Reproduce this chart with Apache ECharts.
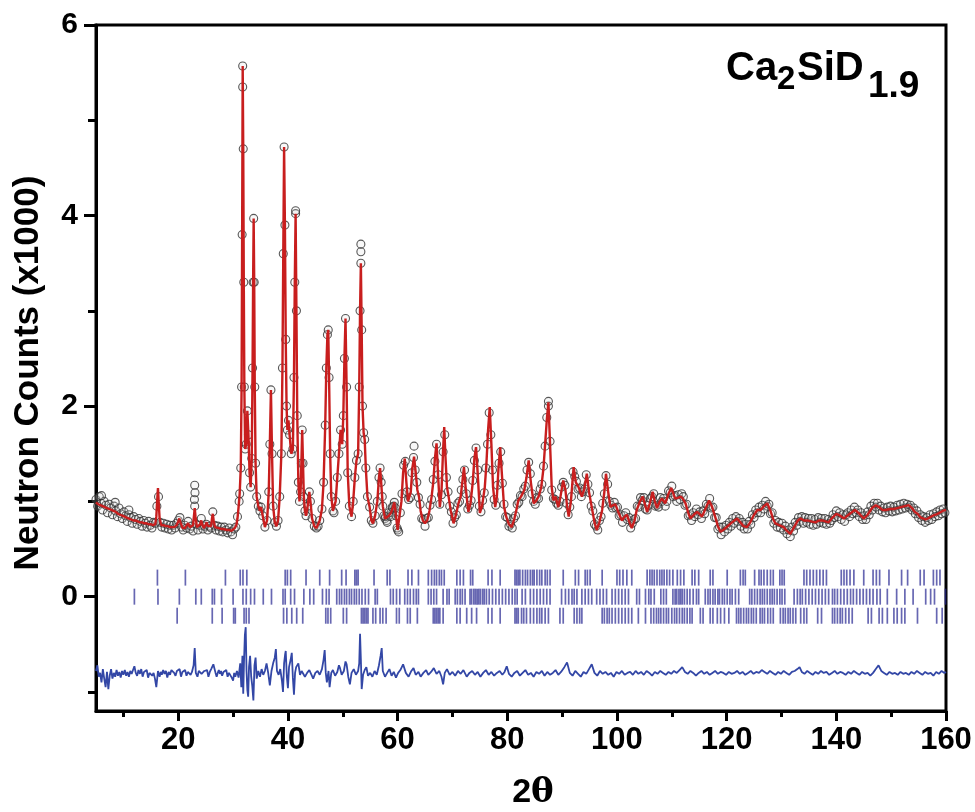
<!DOCTYPE html>
<html>
<head>
<meta charset="utf-8">
<script src="https://cdn.jsdelivr.net/npm/echarts@6/dist/echarts.min.js"></script>
<style>
html, body { margin: 0; padding: 0; background: #fff; }
#chart_id { width: 975px; height: 812px; }
</style>
</head>
<body>
<div id="chart_id"></div>
<script>
// 轴刻度
var xMajorTicks = [20, 40, 60, 80, 100, 120, 140, 160];
var xMinorTicks = [10, 30, 50, 70, 90, 110, 130, 150];
var yMajorTicks = [0, 2, 4, 6];
var yMinorTicks = [-1, 1, 3, 5];

// 计算谱 (2theta, counts/1000)
var profileLow = [[5.0,0.99],[5.4,0.97],[5.8,0.96],[6.2,0.95],[6.6,0.94],[7.0,0.93],[7.4,0.92],[7.8,0.91],[8.2,0.90],[8.6,0.89],[9.0,0.87],[9.4,0.86],[9.8,0.85],[10.2,0.84],[10.6,0.83],[11.0,0.82],[11.4,0.81],[11.8,0.80],[12.2,0.80],[12.6,0.79],[13.0,0.78],[13.4,0.78],[13.8,0.77],[14.2,0.77],[14.6,0.76],[15.0,0.76],[15.4,0.75],[15.8,0.76],[16.0,0.84],[16.15,1.00],[16.3,1.14],[16.45,0.97],[16.6,0.82],[16.9,0.75],[17.3,0.75],[17.7,0.74],[18.1,0.74],[18.5,0.73],[18.9,0.73],[19.3,0.73],[19.7,0.75],[20.0,0.79],[20.2,0.82],[20.4,0.78],[20.8,0.72],[21.2,0.72],[21.5,0.74],[21.8,0.77],[22.1,0.73],[22.4,0.71],[22.7,0.75],[22.9,0.87],[23.0,0.93],[23.15,0.84],[23.4,0.73],[23.7,0.72],[24.0,0.76],[24.2,0.80],[24.4,0.75],[24.7,0.72],[25.0,0.74],[25.2,0.78],[25.4,0.74],[25.7,0.72],[26.0,0.74],[26.15,0.82],[26.3,0.87],[26.45,0.80],[26.7,0.73],[27.0,0.72],[27.4,0.72],[27.8,0.71],[28.2,0.71],[28.5,0.71],[28.9,0.70],[29.3,0.70],[29.7,0.69],[30.0,0.70],[30.3,0.72],[30.6,0.75],[30.8,0.82],[31.0,0.94]];
var profilePeaks = [[31.2,1.08],[31.4,1.35],[31.55,2.2],[31.65,3.8],[31.75,5.57],[31.85,4.7],[31.95,3.3],[32.05,2.2],[32.2,1.55],[32.4,1.6],[32.6,1.95],[32.8,1.7],[33.0,1.3],[33.2,1.15],[33.4,1.45],[33.55,2.4],[33.65,3.3],[33.75,3.97],[33.85,3.3],[33.95,2.2],[34.1,1.4],[34.3,1.05],[34.6,0.95],[34.9,0.90],[35.1,0.94],[35.4,0.85],[35.8,0.73],[36.2,0.80],[36.5,1.10],[36.7,1.6],[36.9,2.17],[37.1,1.5],[37.3,0.95],[37.6,0.78],[37.9,0.74],[38.2,0.80],[38.5,1.05],[38.8,1.5],[39.0,2.4],[39.15,3.6],[39.3,4.72],[39.45,3.9],[39.6,2.7],[39.75,2.0],[39.9,1.75],[40.1,1.85],[40.3,1.7],[40.6,1.5],[40.9,1.55],[41.1,2.3],[41.25,3.3],[41.4,4.02],[41.55,3.0],[41.7,1.9],[41.9,1.2],[42.1,1.0],[42.3,1.1],[42.45,1.4],[42.6,1.75],[42.75,1.4],[42.9,1.05],[43.1,0.9],[43.3,0.85],[43.6,0.95],[43.9,1.1],[44.1,1.0],[44.4,0.82],[44.8,0.74],[45.2,0.72],[45.5,0.74],[45.8,0.80],[46.2,0.92],[46.5,1.2],[46.8,1.8],[47.0,2.4],[47.2,2.75],[47.35,2.8],[47.5,2.3],[47.7,1.5],[47.9,1.05],[48.2,0.9],[48.4,0.88],[48.7,1.0],[49.0,1.25],[49.3,1.5],[49.6,1.75],[49.9,1.6],[50.1,1.9],[50.3,2.5],[50.5,2.92],[50.7,2.2],[50.9,1.3],[51.2,0.95],[51.6,0.84],[51.9,1.0],[52.2,1.25],[52.5,1.43],[52.8,1.5],[53.0,2.2],[53.15,3.0],[53.3,3.5],[53.45,2.8],[53.6,2.0],[53.8,1.72],[54.0,1.65],[54.2,1.35],[54.5,1.05],[54.9,0.94],[55.2,0.80],[55.5,0.77],[55.9,0.85],[56.3,1.0],[56.6,1.25],[56.8,1.35],[57.0,1.2],[57.3,0.95],[57.7,0.82],[58.0,0.80],[58.4,0.85],[58.8,0.88],[59.1,0.93],[59.4,0.99],[59.7,0.85],[60.0,0.70]];
var profileMid = [[60.3,0.72],[60.7,1.0],[61.0,1.3],[61.3,1.45],[61.6,1.2],[61.9,1.0],[62.1,0.98],[62.4,1.1],[62.7,1.35],[63.0,1.47],[63.3,1.3],[63.6,1.12],[63.9,1.05],[64.2,0.9],[64.6,0.8],[65.0,0.77],[65.4,0.8],[65.8,0.9],[66.2,1.05],[66.5,1.2],[66.8,1.45],[67.1,1.61],[67.4,1.25],[67.7,0.94],[68.0,1.1],[68.3,1.55],[68.5,1.78],[68.7,1.5],[69.0,1.15],[69.3,1.05],[69.7,0.9],[70.2,0.77],[70.6,0.85],[71.1,0.98],[71.5,1.05],[71.8,1.2],[72.1,1.36],[72.4,1.15],[72.9,0.89],[73.3,0.98],[73.7,1.2],[74.0,1.45],[74.3,1.57],[74.6,1.3],[75.0,0.88],[75.4,0.95],[75.9,1.15],[76.2,1.4],[76.5,1.75],[76.8,1.99],[77.1,1.6],[77.4,1.15],[77.8,0.94],[78.1,1.05],[78.4,1.35],[78.7,1.57],[79.0,1.3],[79.4,0.95],[79.8,0.84],[80.3,0.76],[80.8,0.73],[81.3,0.82],[81.7,0.92],[82.0,1.01],[82.5,1.05],[83.1,1.12],[83.5,1.25],[83.9,1.43],[84.3,1.2],[84.8,0.98],[85.2,1.0],[85.7,1.05],[86.2,1.15],[86.6,1.35],[86.9,1.6],[87.2,1.85],[87.5,2.04],[87.8,1.6],[88.1,1.15],[88.4,1.01],[88.8,1.05],[89.3,0.94],[89.7,1.05],[90.2,1.22],[90.6,1.12],[90.9,0.95],[91.2,0.84],[91.6,1.0],[92.1,1.36],[92.5,1.2],[93.0,1.15],[93.6,1.05],[94.0,1.12],[94.5,1.29],[94.9,1.1],[95.4,0.94],[95.9,0.78],[96.3,0.70],[96.8,0.78],[97.3,0.91],[97.7,1.1],[98.0,1.29],[98.4,1.1],[98.8,0.94],[99.3,0.96],[99.7,0.97]];
var profileHigh = [[100.3,0.88],[100.9,0.80],[101.4,0.84],[101.8,0.86],[102.3,0.78],[102.7,0.72],[103.2,0.80],[103.6,0.91],[104.2,1.00],[104.7,1.05],[105.1,0.97],[105.5,0.89],[106.0,0.98],[106.5,1.10],[106.9,1.00],[107.3,0.93],[107.8,1.00],[108.2,1.03],[108.8,0.98],[109.4,1.08],[109.9,1.14],[110.3,1.08],[110.6,1.03],[111.2,1.04],[111.7,1.05],[112.1,1.02],[112.5,0.98],[113.0,0.88],[113.4,0.82],[114.0,0.86],[114.6,0.89],[115.0,0.87],[115.5,0.84],[116.2,0.93],[116.8,1.01],[117.3,0.95],[117.9,0.84],[118.4,0.74],[118.9,0.68],[119.6,0.71],[120.4,0.75],[121.2,0.79],[121.9,0.82],[122.5,0.78],[123.1,0.74],[123.7,0.73],[124.3,0.78],[124.9,0.85],[125.6,0.91],[126.2,0.91],[126.8,0.95],[127.4,0.98],[128.0,0.90],[128.5,0.81],[128.9,0.77],[129.6,0.75],[130.4,0.73],[131.0,0.69],[131.6,0.66],[132.3,0.73],[133.0,0.80],[133.5,0.82],[134.1,0.80],[134.7,0.80],[135.4,0.79],[136.2,0.78],[136.8,0.80],[137.4,0.80],[138.0,0.79],[138.6,0.78],[139.3,0.83],[140.0,0.87],[140.7,0.85],[141.4,0.82],[142.0,0.85],[142.7,0.88],[143.4,0.91],[144.2,0.87],[145.0,0.82],[145.7,0.86],[146.5,0.93],[147.2,0.96],[147.8,0.94],[148.4,0.91],[149.0,0.91],[149.8,0.92],[150.5,0.92],[151.1,0.93],[151.8,0.94],[152.5,0.95],[153.2,0.96],[153.8,0.93],[154.3,0.89],[154.8,0.87],[155.4,0.83],[156.3,0.81],[157.0,0.83],[157.6,0.85],[158.1,0.86],[158.8,0.88],[159.4,0.90],[160.0,0.91]];

// 观测点: 等步长 0.3 度的计数 (低角区 5.0 起, 中角区 57.2 起, 高角区 100.1 起)
var obsLowStart = 5.0, obsMidStart = 57.2, obsHighStart = 100.1, obsStep = 0.3;
var obsLow = [1.02,0.95,1.05,0.98,0.91,1.00,0.96,0.88,0.97,0.93,
	0.86,0.95,0.90,0.84,0.93,0.87,0.82,0.89,0.85,0.79,
	0.86,0.83,0.77,0.84,0.81,0.76,0.82,0.79,0.74,0.80,
	0.77,0.73,0.79,0.75,0.72,0.78,0.77,0.95,1.05,0.78,
	0.73,0.77,0.72,0.76,0.71,0.75,0.70,0.75,0.72,0.77,
	0.80,0.83,0.73,0.70,0.75,0.72,0.79,0.71,0.74,0.69,
	0.95,0.76,0.70,0.75,0.82,0.71,0.74,0.76,0.70,0.74,
	0.72,0.89,0.75,0.70,0.74,0.69,0.73,0.68,0.73,0.70,
	0.67,0.72,0.68,0.65,0.71,0.73,0.84,1.00];
var obsMid = [1.05,0.85,0.84,0.78,0.88,0.84,0.94,0.95,0.93,0.72,
	0.68,0.88,1.08,1.38,1.42,1.10,1.02,1.04,1.30,1.46,
	1.33,1.20,1.04,0.97,0.82,0.81,0.74,0.82,0.83,0.96,
	1.02,1.23,1.42,1.60,1.28,0.97,1.07,1.52,1.70,1.25,
	1.10,0.95,0.89,0.77,0.83,0.86,0.98,1.00,1.12,1.23,
	1.33,1.08,0.92,0.96,1.01,1.22,1.43,1.56,1.33,0.95,
	0.89,1.01,1.09,1.35,1.60,1.93,1.70,1.33,1.02,0.96,
	1.17,1.40,1.52,1.19,0.97,0.84,0.83,0.74,0.76,0.72,
	0.82,0.85,0.97,0.99,1.06,1.05,1.13,1.16,1.33,1.41,
	1.29,1.08,1.00,0.97,1.04,1.03,1.13,1.18,1.37,1.58,
	1.88,2.00,1.63,1.12,1.03,1.02,0.98,0.96,1.00,1.15,
	1.20,1.17,0.98,0.86,0.94,1.05,1.31,1.26,1.21,1.13,
	1.14,1.05,1.10,1.13,1.28,1.18,1.09,0.95,0.90,0.76,
	0.74,0.70,0.80,0.84,0.98,1.08,1.27,1.18,1.00,0.96,
	0.93,0.99,0.93];
var obsHigh = [0.94,0.85,0.86,0.78,0.85,0.88,0.81,0.83,0.72,0.77,
	0.81,0.82,0.95,0.94,1.04,1.01,1.04,0.92,0.91,0.96,
	1.03,1.05,1.08,0.95,0.96,0.94,1.04,1.00,1.03,0.95,
	1.00,1.11,1.09,1.16,1.05,1.06,1.00,1.07,1.02,1.08,
	1.05,0.96,0.97,0.85,0.86,0.80,0.88,0.84,0.92,0.86,
	0.89,0.82,0.90,0.87,0.97,0.95,1.03,0.93,0.94,0.83,
	0.83,0.71,0.73,0.65,0.73,0.68,0.75,0.71,0.78,0.74,
	0.82,0.77,0.84,0.79,0.82,0.74,0.78,0.71,0.76,0.71,
	0.79,0.76,0.86,0.83,0.91,0.88,0.94,0.88,0.96,0.92,
	1.00,0.95,0.97,0.87,0.88,0.77,0.80,0.73,0.78,0.72,
	0.77,0.70,0.74,0.66,0.70,0.63,0.73,0.69,0.78,0.75,
	0.83,0.79,0.84,0.77,0.83,0.78,0.82,0.76,0.82,0.75,
	0.81,0.76,0.83,0.78,0.82,0.77,0.82,0.76,0.81,0.77,
	0.80,0.86,0.83,0.90,0.84,0.88,0.81,0.86,0.79,0.86,
	0.88,0.84,0.91,0.87,0.94,0.88,0.91,0.84,0.88,0.81,
	0.85,0.81,0.89,0.86,0.95,0.91,0.98,0.94,0.98,0.91,
	0.95,0.89,0.93,0.88,0.94,0.90,0.95,0.89,0.94,0.90,
	0.96,0.91,0.97,0.92,0.98,0.93,0.97,0.94,0.96,0.91,
	0.93,0.87,0.90,0.83,0.86,0.80,0.84,0.78,0.83,0.80,
	0.86,0.81,0.87,0.84,0.89,0.85,0.91,0.87,0.92,0.88];
// 偏离拟合线的观测点
var obsExtra = [[22.95,1.02],[23.0,1.17],[23.05,1.09],[31.75,5.35],[41.4,4.05],[53.3,3.62],[53.3,3.70],[63.0,1.58],[87.5,2.05],[6.0,1.06],[8.5,0.99],[11.0,0.91]];

// 差值曲线
var diffLow = [[5.0,-0.78],[5.25,-0.72],[5.5,-0.84],[5.75,-0.80],[6.0,-0.90],[6.25,-0.76],[6.5,-0.86],[6.75,-0.95],[7.0,-0.79],[7.25,-0.97],[7.5,-0.83],[7.75,-0.76],[8.0,-0.86],[8.25,-0.80],[8.5,-0.84],[8.75,-0.77],[9.0,-0.83],[9.25,-0.79],[9.5,-0.85],[9.75,-0.78],[10.0,-0.82],[10.25,-0.77],[10.5,-0.83],[10.75,-0.79],[11.0,-0.84],[11.25,-0.78],[11.5,-0.81],[11.75,-0.77],[12.0,-0.73],[12.25,-0.80],[12.5,-0.83],[12.75,-0.77],[13.0,-0.81],[13.25,-0.76],[13.5,-0.84],[13.75,-0.79],[14.0,-0.81],[14.25,-0.77],[14.5,-0.85],[14.75,-0.80],[15.0,-0.78],[15.25,-0.83],[15.5,-0.80],[15.75,-0.86],[16.0,-0.95],[16.3,-0.78],[16.6,-0.84],[16.8,-0.79],[17.0,-0.82],[17.25,-0.77],[17.5,-0.81],[17.75,-0.78],[18.0,-0.85],[18.25,-0.79],[18.5,-0.82],[18.75,-0.77],[19.0,-0.75],[19.25,-0.80],[19.5,-0.83],[19.75,-0.78],[20.0,-0.80],[20.25,-0.76],[20.5,-0.84],[20.75,-0.79],[21.0,-0.81],[21.25,-0.77],[21.5,-0.83],[21.75,-0.79],[22.0,-0.77],[22.25,-0.82],[22.5,-0.79],[22.8,-0.72],[23.0,-0.54],[23.2,-0.80],[23.5,-0.84],[23.75,-0.78],[24.0,-0.76],[24.25,-0.81],[24.5,-0.83],[24.75,-0.78],[25.0,-0.80],[25.25,-0.77],[25.5,-0.84],[25.75,-0.79],[26.0,-0.76],[26.4,-0.71],[26.8,-0.80],[27.0,-0.84],[27.2,-0.80],[27.4,-0.77],[27.6,-0.81],[27.8,-0.78],[28.0,-0.83],[28.25,-0.79],[28.5,-0.81],[28.75,-0.77],[29.0,-0.84],[29.25,-0.80],[29.5,-0.82],[29.75,-0.85],[30.0,-0.88],[30.2,-0.80],[30.4,-0.84],[30.7,-0.78],[31.0,-0.85],[31.3,-0.70],[31.5,-0.95],[31.7,-0.62],[31.85,-1.02],[32.0,-0.66],[32.15,-0.40],[32.3,-0.32],[32.45,-0.78],[32.6,-0.98],[32.75,-1.05],[32.9,-0.74],[33.1,-0.62],[33.3,-0.84],[33.5,-0.94],[33.7,-1.09],[33.9,-0.72],[34.1,-0.64],[34.3,-0.86],[34.6,-0.78],[34.9,-0.84],[35.2,-0.76],[35.5,-0.82],[35.8,-0.78],[36.1,-0.70],[36.4,-0.80],[36.7,-0.93],[37.0,-0.78],[37.3,-0.70],[37.6,-0.64],[37.8,-0.55],[38.0,-0.78],[38.3,-0.82],[38.6,-0.76],[38.9,-0.88],[39.1,-1.00],[39.3,-0.70],[39.5,-0.60],[39.6,-0.57],[39.8,-0.84],[40.0,-0.96],[40.2,-0.74],[40.5,-0.66],[40.7,-0.59],[40.9,-0.85],[41.1,-1.03],[41.3,-0.80],[41.5,-0.74],[41.9,-0.70],[42.2,-0.82],[42.5,-0.78],[42.8,-0.76],[43.1,-0.84],[43.5,-0.80],[43.9,-0.77],[44.3,-0.82],[44.6,-0.86],[45.0,-0.80],[45.4,-0.78],[45.8,-0.82],[46.2,-0.76],[46.5,-0.66],[46.7,-0.56],[46.9,-0.80],[47.1,-0.90],[47.4,-0.78],[47.6,-0.95],[47.9,-0.80],[48.2,-0.77],[48.6,-0.83],[49.0,-0.79],[49.3,-0.72],[49.5,-0.75],[49.8,-0.82],[50.2,-0.78],[50.5,-0.68],[50.7,-0.71],[51.0,-0.84],[51.3,-0.92],[51.6,-0.80],[52.0,-0.76],[52.4,-0.82],[52.8,-0.78],[53.0,-0.70],[53.15,-0.39],[53.3,-0.66],[53.45,-0.97],[53.7,-0.82],[54.0,-0.77],[54.3,-0.74],[54.6,-0.83],[55.0,-0.80],[55.4,-0.84],[55.8,-0.78],[56.2,-0.82],[56.6,-0.72],[56.9,-0.62],[57.1,-0.54],[57.3,-0.78],[57.7,-0.84],[58.1,-0.80],[58.5,-0.76],[58.9,-0.83],[59.3,-0.79],[59.7,-0.85],[60.1,-0.80]];
var diffHigh = [[60.5,-0.77],[61.0,-0.71],[61.5,-0.80],[62.0,-0.84],[62.5,-0.78],[62.9,-0.75],[63.3,-0.82],[63.8,-0.79],[64.2,-0.84],[64.7,-0.80],[65.2,-0.77],[65.6,-0.82],[66.1,-0.79],[66.6,-0.75],[67.1,-0.81],[67.6,-0.78],[68.0,-0.84],[68.3,-0.92],[68.6,-0.80],[69.0,-0.76],[69.5,-0.82],[70.0,-0.79],[70.5,-0.83],[71.0,-0.78],[71.5,-0.81],[72.0,-0.77],[72.6,-0.84],[73.1,-0.80],[73.6,-0.78],[74.1,-0.82],[74.6,-0.79],[75.1,-0.84],[75.6,-0.80],[76.1,-0.77],[76.6,-0.82],[77.1,-0.79],[77.6,-0.83],[78.1,-0.80],[78.6,-0.78],[79.1,-0.82],[79.5,-0.79],[79.9,-0.73],[80.3,-0.81],[80.8,-0.84],[81.3,-0.80],[81.8,-0.78],[82.3,-0.83],[82.8,-0.80],[83.3,-0.77],[83.8,-0.82],[84.3,-0.80],[84.8,-0.84],[85.3,-0.79],[85.8,-0.81],[86.3,-0.78],[86.8,-0.83],[87.3,-0.79],[87.8,-0.82],[88.3,-0.80],[88.8,-0.77],[89.3,-0.82],[89.8,-0.79],[90.4,-0.74],[90.9,-0.69],[91.4,-0.80],[91.9,-0.83],[92.4,-0.78],[92.9,-0.81],[93.4,-0.84],[93.9,-0.79],[94.4,-0.81],[94.9,-0.76],[95.4,-0.71],[95.9,-0.80],[96.4,-0.83],[96.9,-0.78],[97.4,-0.81],[97.9,-0.79],[98.4,-0.82],[98.9,-0.80],[99.4,-0.84],[99.9,-0.79],[100.4,-0.81],[100.9,-0.78],[101.4,-0.82],[101.9,-0.80],[102.4,-0.79],[102.9,-0.82],[103.4,-0.78],[103.9,-0.81],[104.4,-0.79],[104.9,-0.82],[105.4,-0.78],[105.9,-0.80],[106.4,-0.83],[106.9,-0.79],[107.4,-0.81],[107.9,-0.78],[108.4,-0.80],[108.9,-0.82],[109.4,-0.79],[109.9,-0.81],[110.4,-0.78],[110.9,-0.80],[111.4,-0.77],[111.9,-0.74],[112.4,-0.79],[112.9,-0.81],[113.4,-0.78],[113.9,-0.80],[114.4,-0.83],[114.9,-0.80],[115.4,-0.78],[115.9,-0.81],[116.4,-0.79],[116.9,-0.82],[117.4,-0.80],[117.9,-0.78],[118.4,-0.81],[118.9,-0.79],[119.4,-0.80],[119.9,-0.82],[120.4,-0.79],[120.9,-0.81],[121.4,-0.80],[121.9,-0.78],[122.4,-0.81],[122.9,-0.79],[123.4,-0.82],[123.9,-0.80],[124.4,-0.78],[124.9,-0.81],[125.4,-0.79],[125.9,-0.80],[126.4,-0.77],[126.9,-0.79],[127.4,-0.81],[127.9,-0.78],[128.4,-0.80],[128.9,-0.82],[129.4,-0.79],[129.9,-0.81],[130.4,-0.78],[130.9,-0.80],[131.4,-0.82],[131.9,-0.79],[132.4,-0.78],[132.9,-0.76],[133.3,-0.74],[133.7,-0.79],[134.2,-0.81],[134.7,-0.78],[135.2,-0.80],[135.7,-0.82],[136.2,-0.79],[136.7,-0.81],[137.2,-0.78],[137.7,-0.80],[138.2,-0.79],[138.7,-0.82],[139.2,-0.80],[139.7,-0.78],[140.2,-0.81],[140.7,-0.79],[141.2,-0.80],[141.7,-0.82],[142.2,-0.79],[142.7,-0.81],[143.2,-0.78],[143.7,-0.80],[144.2,-0.82],[144.7,-0.79],[145.2,-0.81],[145.7,-0.80],[146.2,-0.83],[146.7,-0.80],[147.2,-0.76],[147.7,-0.72],[148.2,-0.78],[148.7,-0.80],[149.2,-0.82],[149.7,-0.79],[150.2,-0.81],[150.7,-0.80],[151.2,-0.82],[151.7,-0.79],[152.2,-0.81],[152.7,-0.80],[153.2,-0.82],[153.7,-0.79],[154.2,-0.81],[154.7,-0.78],[155.2,-0.80],[155.7,-0.82],[156.2,-0.79],[156.7,-0.81],[157.2,-0.80],[157.7,-0.83],[158.2,-0.79],[158.7,-0.81],[159.2,-0.78],[159.7,-0.80],[160.0,-0.79]];

// 三个物相的布拉格峰位置
var phase1Ticks = [16.2,21.3,28.6,31.3,31.8,32.5,39.5,39.9,40.5,43.3,45.8,47.6,49.8,50.6,52.2,52.5,52.8,55.7,58.1,58.6,61.9,62.6,63.8,65.6,66.2,66.7,67.1,67.6,68.0,68.5,70.8,71.4,72.0,73.3,73.7,76.5,77.2,78.7,81.4,81.7,82.0,82.3,82.8,83.3,83.7,84.2,84.6,84.9,85.4,85.9,86.3,86.9,87.3,87.8,90.2,92.4,93.0,94.2,94.6,95.1,97.3,100.0,100.5,101.1,101.8,102.7,105.5,106.0,106.4,106.8,107.3,107.8,108.2,108.6,109.1,109.6,110.2,111.0,111.6,112.2,113.7,114.2,114.9,117.0,117.5,120.1,122.5,123.0,123.4,125.1,125.9,126.3,126.8,127.4,128.0,128.5,129.7,130.1,130.5,134.1,134.6,135.2,135.8,136.4,137.0,137.6,138.2,140.9,141.4,141.9,142.5,143.2,145.0,146.7,147.3,147.9,149.6,151.9,153.0,155.3,156.0,157.7,158.3,158.9];
var phase2Ticks = [12.0,16.3,20.2,23.2,24.2,26.2,26.6,27.9,30.0,31.8,32.4,33.2,33.9,35.5,37.0,39.1,39.5,40.5,41.2,42.9,44.0,44.7,46.3,47.0,47.5,48.9,49.4,49.8,50.3,50.7,51.2,51.6,52.1,52.5,53.0,53.5,54.1,54.7,55.9,56.3,58.7,59.2,59.8,60.4,61.3,61.8,62.3,62.9,63.4,63.8,65.6,66.1,66.6,67.1,68.3,69.0,69.4,70.5,70.9,71.4,71.8,72.3,73.2,73.5,73.9,74.2,74.5,74.8,75.1,75.5,75.8,76.2,76.7,77.3,77.9,78.5,79.1,79.7,80.3,80.9,81.4,81.8,82.7,83.3,84.2,84.8,85.4,86.0,86.6,87.2,87.8,89.9,90.6,91.2,91.8,92.2,92.7,93.6,94.2,94.8,95.4,96.3,96.9,97.5,98.1,99.1,99.7,100.3,100.9,101.5,102.1,103.6,104.1,105.2,105.8,106.2,106.8,108.0,108.5,109.0,110.2,110.6,110.9,111.3,111.6,111.9,112.3,112.8,113.3,113.9,114.5,114.9,116.1,116.6,117.0,117.5,117.9,118.4,118.7,119.2,119.6,120.1,120.6,121.0,121.6,122.2,124.2,124.6,125.1,125.6,126.1,126.5,126.9,127.4,127.9,128.3,128.7,129.2,129.7,130.1,130.6,132.3,132.9,133.4,133.8,134.4,135.0,135.6,136.2,136.8,137.4,138.0,138.6,139.3,139.7,140.2,140.8,141.4,142.0,142.6,143.1,143.7,144.3,144.9,145.5,146.1,146.7,147.4,148.0,149.3,151.0,152.5,154.0,156.3,157.2,157.9,159.9];
var phase3Ticks = [19.8,26.2,28.0,30.1,30.4,32.0,32.4,32.9,39.2,39.8,40.7,41.6,42.7,46.9,47.3,47.8,50.1,50.7,53.4,53.7,54.0,54.3,54.6,55.5,56.0,56.8,57.3,57.9,59.8,60.3,61.8,62.3,63.6,66.5,66.8,67.1,67.4,67.7,68.3,70.8,71.4,72.6,73.5,74.4,76.5,77.2,78.7,81.4,81.7,82.0,82.6,83.0,83.5,84.2,84.8,85.4,85.9,86.3,86.9,87.5,89.6,90.2,92.2,92.7,93.2,93.6,97.3,97.7,98.2,98.6,99.1,99.7,100.3,100.9,101.5,102.1,102.7,103.9,105.2,106.2,106.7,107.2,107.6,108.0,108.5,109.0,109.4,110.0,110.5,110.9,111.4,111.9,112.3,112.8,113.3,113.7,115.2,115.7,117.0,117.5,118.3,118.9,119.6,120.4,121.8,122.2,122.6,123.1,123.6,124.0,124.5,124.9,125.4,126.1,126.5,126.9,127.5,128.0,128.5,129.8,130.3,130.7,131.2,131.6,132.1,132.6,133.5,134.1,134.6,136.6,137.3,139.3,139.7,140.2,140.7,141.1,141.7,142.3,142.9,145.8,146.4,147.8,148.4,149.3,150.5,151.1,151.9,152.5,154.8,158.3,159.3];
var phaseRowY = [0.2, 0, -0.2];

var FONT = '"Liberation Sans", Arial, sans-serif';
var TICK_COLOR = 'rgba(38,38,145,0.88)';

function tickPoints(list, yRow) {
	var pts = [];
	for (var i = 0; i < list.length; i++) {
		pts.push([list[i], yRow]);
	}
	return pts;
}

function gridPoints(start, step, values) {
	var pts = [];
	for (var i = 0; i < values.length; i++) {
		pts.push([Math.round((start + i * step) * 10) / 10, values[i]]);
	}
	return pts;
}

function axisPair(type, minV, maxV, majors, minors, majorLen, minorLen, labelOpt) {
	var base = {
		type : 'value',
		min : minV,
		max : maxV,
		position : type == 'x' ? 'bottom' : 'left',
		splitLine : { show : false }
	};
	var major = Object.assign({}, base, {
		axisLine : { show : true, onZero : false, lineStyle : { color : '#000', width : 3 } },
		axisTick : { show : true, customValues : majors, length : majorLen, lineStyle : { color : '#000', width : 3 } },
		axisLabel : Object.assign({ customValues : majors, color : '#000', fontFamily : FONT, fontWeight : 'bold' }, labelOpt)
	});
	var minor = Object.assign({}, base, {
		axisLine : { show : false, onZero : false },
		axisTick : { show : true, customValues : minors, length : minorLen, lineStyle : { color : '#000', width : 3 } },
		axisLabel : { show : false }
	});
	return [major, minor];
}

function tickSeries(list, yRow) {
	return {
		type : 'scatter',
		data : tickPoints(list, yRow),
		symbol : 'rect',
		symbolSize : [1.7, 16],
		itemStyle : { color : TICK_COLOR }
	};
}

var myChart = echarts.init(document.getElementById('chart_id'));

var obsPoints = gridPoints(obsLowStart, obsStep, obsLow).concat(
	profilePeaks,
	gridPoints(obsMidStart, obsStep, obsMid),
	gridPoints(obsHighStart, obsStep, obsHigh),
	obsExtra);

var option = {
	animation : false,
	backgroundColor : '#fff',
	grid : {
		left : 96, right : 29, top : 25, bottom : 101,
		show : true, borderColor : '#000', borderWidth : 3
	},
	xAxis : axisPair('x', 5, 160, xMajorTicks, xMinorTicks, 10, 6, { fontSize : 31, margin : 14 }),
	yAxis : axisPair('y', -1.2, 6, yMajorTicks, yMinorTicks, 12, 8, { fontSize : 30, margin : 18 }),
	series : [ {
		type : 'scatter',
		data : obsPoints,
		symbol : 'circle',
		symbolSize : 8,
		itemStyle : { color : 'rgba(220,220,220,0.25)', borderColor : '#2e2e2e', borderWidth : 1.1 },
		z : 2
	}, {
		type : 'line',
		data : profileLow.concat(profilePeaks, profileMid, profileHigh),
		showSymbol : false,
		lineStyle : { color : '#c81e1e', width : 2.4 },
		z : 3
	},
	tickSeries(phase1Ticks, phaseRowY[0]),
	tickSeries(phase2Ticks, phaseRowY[1]),
	tickSeries(phase3Ticks, phaseRowY[2]),
	{
		type : 'line',
		data : diffLow.concat(diffHigh),
		showSymbol : false,
		lineStyle : { color : '#3347a6', width : 1.8 }
	} ],
	graphic : [ {
		type : 'text', x : 28, y : 373, rotation : Math.PI / 2,
		style : { text : 'Neutron Counts (x1000)', font : 'bold 35px ' + FONT, fill : '#000', align : 'center', verticalAlign : 'middle' }
	}, {
		type : 'text', x : 533, y : 793,
		style : {
			text : '{a|2}{b|θ}', align : 'center', verticalAlign : 'middle',
			rich : {
				a : { font : 'bold 34px ' + FONT, fill : '#000' },
				b : { font : 'bold 34px "DejaVu Serif", "Liberation Serif", serif', fill : '#000' }
			}
		}
	}, {
		type : 'text', x : 726, y : 69,
		style : { text : 'Ca', font : 'bold 40px ' + FONT, fill : '#000', verticalAlign : 'middle' }
	}, {
		type : 'text', x : 777, y : 80,
		style : { text : '2', font : 'bold 33px ' + FONT, fill : '#000', verticalAlign : 'middle' }
	}, {
		type : 'text', x : 797, y : 69,
		style : { text : 'SiD', font : 'bold 40px ' + FONT, fill : '#000', verticalAlign : 'middle' }
	}, {
		type : 'text', x : 868, y : 87,
		style : { text : '1.9', font : 'bold 37px ' + FONT, fill : '#000', verticalAlign : 'middle' }
	} ]
};

myChart.setOption(option);
</script>
</body>
</html>
